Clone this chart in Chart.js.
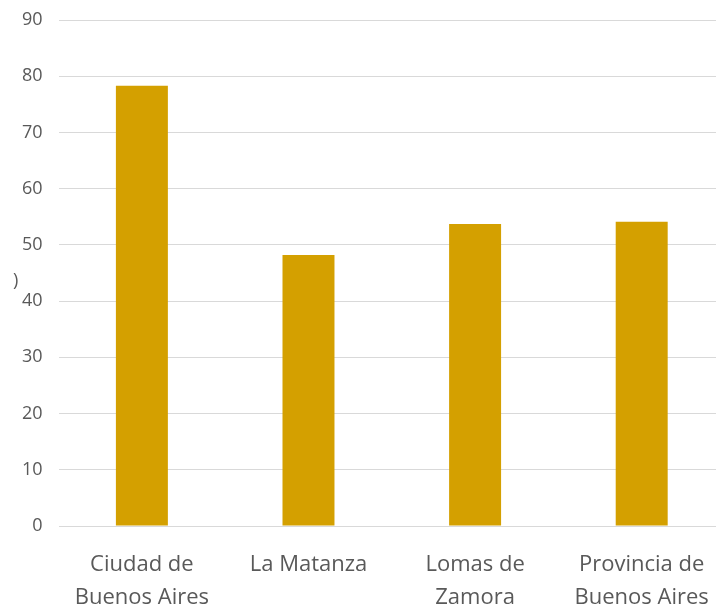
<!DOCTYPE html>
<html>
<head>
<meta charset="utf-8">
<script src="https://cdn.jsdelivr.net/npm/chart.js@4/dist/chart.umd.min.js"></script>
<style>
  html, body { margin: 0; padding: 0; background: #fff; overflow: hidden; }
  #wrap { width: 716px; height: 612px; overflow: hidden; }
</style>
</head>
<body>
<div id="wrap"><canvas id="myChart" width="730" height="632"></canvas></div>
<script>
const categories = [
  ['Ciudad de', 'Buenos Aires'],
  'La Matanza',
  ['Lomas de', 'Zamora'],
  ['Provincia de', 'Buenos Aires']
];
const values = [78.3, 48.2, 53.7, 54.1];
const yMin = 0;
const yMax = 90;
const yStep = 10;

// restos del titulo del eje que queda cortado a la izquierda
const cutTitle = {
  id: 'cutTitle',
  afterDraw(chart) {
    const c = chart.ctx;
    c.save();
    c.fillStyle = '#595959';
    c.font = '18px "Open Sans"';
    c.textAlign = 'left';
    c.textBaseline = 'middle';
    c.fillText(')', 13, 281);
    c.restore();
  }
};

const ctx = document.getElementById('myChart');

new Chart(ctx, {
  type: 'bar',
  data: {
    labels: categories,
    datasets: [{
      data: values,
      backgroundColor: '#d4a000',
      borderWidth: 0,
      barPercentage: 0.312,
      categoryPercentage: 1
    }]
  },
  options: {
    responsive: false,
    animation: false,
    layout: {
      padding: { left: 22, right: 5, top: 20, bottom: 4 }
    },
    plugins: {
      legend: { display: false },
      tooltip: { enabled: false }
    },
    scales: {
      x: {
        grid: { display: false },
        border: { display: false },
        ticks: {
          color: '#595959',
          font: { family: 'Open Sans', size: 22, lineHeight: 1.5 },
          padding: 14,
          maxRotation: 0,
          autoSkip: false
        }
      },
      y: {
        min: yMin,
        max: yMax,
        grid: {
          color: '#d9d9d9',
          lineWidth: 1,
          drawTicks: true,
          tickLength: 16,
          tickColor: 'rgba(0,0,0,0)'
        },
        border: { display: false },
        ticks: {
          stepSize: yStep,
          color: '#595959',
          font: { family: 'Open Sans', size: 18 },
          padding: 0
        }
      }
    }
  },
  plugins: [cutTitle]
});
</script>
</body>
</html>
